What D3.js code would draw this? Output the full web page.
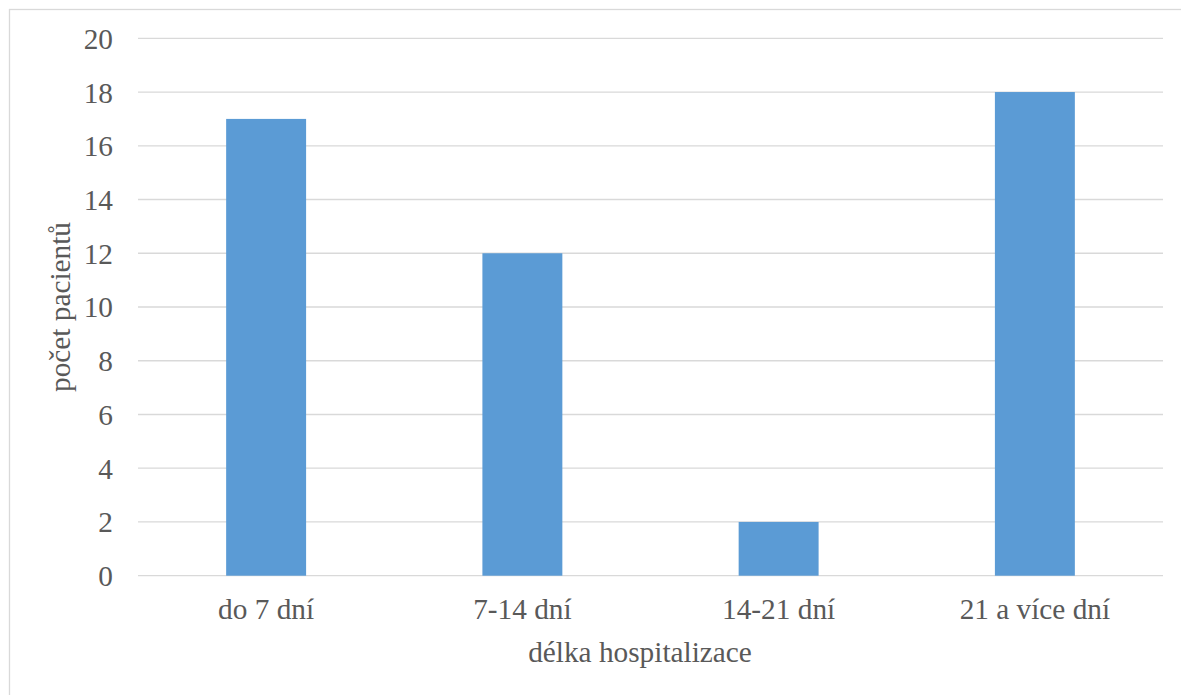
<!DOCTYPE html>
<html>
<head>
<meta charset="utf-8">
<script src="https://cdn.jsdelivr.net/npm/d3@7"></script>
<style>
  html, body { margin: 0; padding: 0; background: #fff; }
  svg { display: block; }
</style>
</head>
<body>
<svg id="chart" width="1181" height="695"></svg>
<script>
// Length of hospital stay vs. number of patients
const categories = ["do 7 dní", "7-14 dní", "14-21 dní", "21 a více dní"];
const patients = [17, 12, 2, 18];
const yTicks = [0, 2, 4, 6, 8, 10, 12, 14, 16, 18, 20];
const yTitle = "počet pacientů";
const xTitle = "délka hospitalizace";

const FONT = "Liberation Serif";
const FONT_SIZE = "29.3px";
const TEXT_COLOR = "#595959";

const svg = d3.select("#chart");
const W = 1181, H = 695;
const plot = { left: 138, right: 1163, top: 38.3, bottom: 575.7 };

// outer chart frame
svg.append("rect")
  .attr("x", 9.5).attr("y", 9.5)
  .attr("width", W + 20).attr("height", H + 20)
  .attr("fill", "#fff").attr("stroke", "#d9d9d9").attr("stroke-width", 1.3);

const x = d3.scaleBand()
  .domain(categories)
  .range([plot.left, plot.right])
  .paddingInner(0.688)
  .paddingOuter(0.344);

const y = d3.scaleLinear()
  .domain([0, 20])
  .range([plot.bottom, plot.top]);

// horizontal gridlines
svg.append("g")
  .selectAll("line")
  .data(yTicks)
  .join("line")
  .attr("x1", plot.left).attr("x2", plot.right)
  .attr("y1", d => y(d)).attr("y2", d => y(d))
  .attr("stroke", "#d9d9d9").attr("stroke-width", 1.3);

// bars
svg.append("g")
  .selectAll("rect")
  .data(categories)
  .join("rect")
  .attr("x", d => x(d))
  .attr("width", x.bandwidth())
  .attr("y", (d, i) => y(patients[i]))
  .attr("height", (d, i) => y(0) - y(patients[i]))
  .attr("fill", "#5b9bd5");

function styleText(sel) {
  sel.style("font-family", FONT)
     .style("font-size", FONT_SIZE)
     .style("fill", TEXT_COLOR);
}

// y axis labels
const yAxis = svg.append("g")
  .attr("transform", `translate(${plot.left - 25},0)`)
  .call(d3.axisLeft(y).tickValues(yTicks).tickSize(0).tickPadding(0));
yAxis.select(".domain").remove();
yAxis.selectAll("text").attr("dy", "0.34em").call(styleText);

// x axis labels
const xAxis = svg.append("g")
  .attr("transform", `translate(0,${plot.bottom})`)
  .call(d3.axisBottom(x).tickSize(0).tickPadding(0));
xAxis.select(".domain").remove();
xAxis.selectAll("text").attr("dy", null).attr("y", 43.5).call(styleText);

// axis titles
svg.append("text")
  .attr("x", 640).attr("y", 662)
  .attr("text-anchor", "middle")
  .text(xTitle)
  .call(styleText);

svg.append("text")
  .attr("transform", `translate(70,${(plot.top + plot.bottom) / 2}) rotate(-90)`)
  .attr("text-anchor", "middle")
  .text(yTitle)
  .call(styleText);
</script>
</body>
</html>
